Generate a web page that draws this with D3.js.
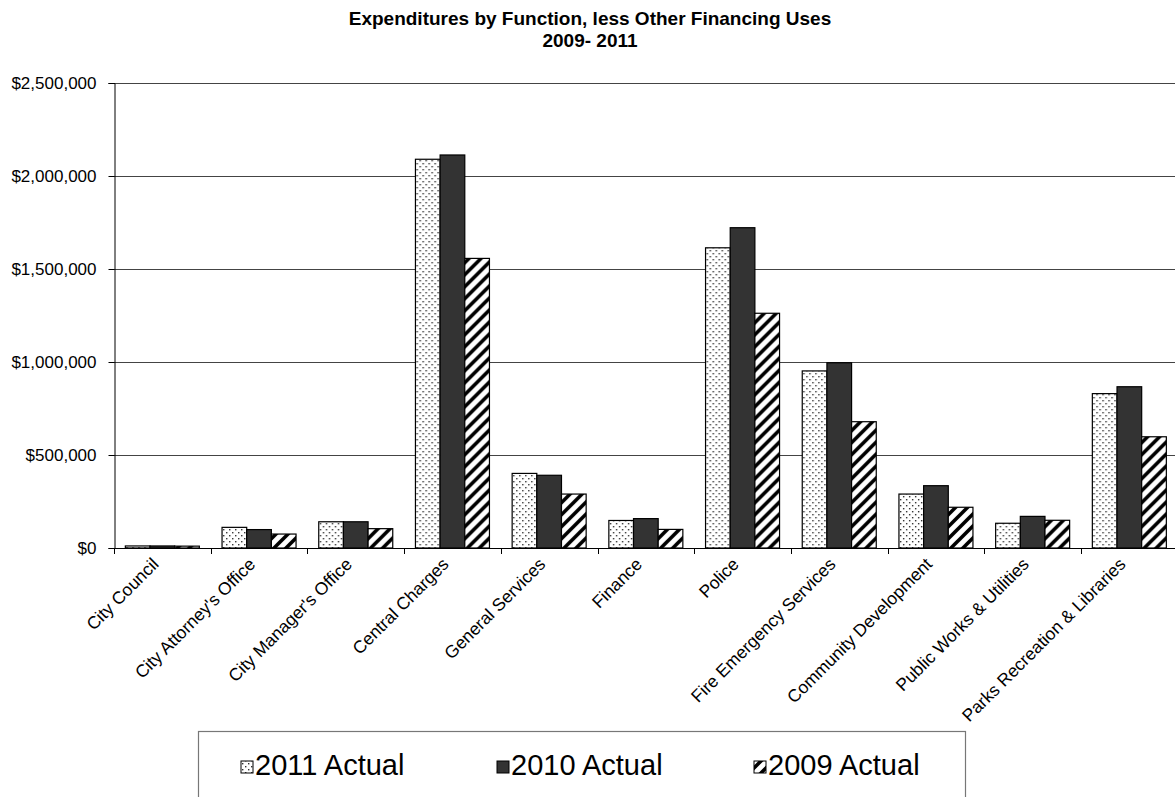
<!DOCTYPE html>
<html>
<head>
<meta charset="utf-8">
<script src="https://cdn.jsdelivr.net/npm/d3@7"></script>
<style>
  html, body { margin: 0; padding: 0; background: #fff; }
  svg { display: block; font-family: "Liberation Sans", Arial, sans-serif; }
</style>
</head>
<body>
<svg id="chart" width="1175" height="797"></svg>
<script>
// Expenditures by function, three fiscal years
const categories = [
  "City Council", "City Attorney's Office", "City Manager's Office", "Central Charges",
  "General Services", "Finance", "Police", "Fire Emergency Services",
  "Community Development", "Public Works & Utilities", "Parks Recreation & Libraries"
];
const seriesNames = ["2011 Actual", "2010 Actual", "2009 Actual"];
const actual2011 = [11000, 111000, 141000, 2090000, 401000, 148000, 1614000, 952000, 290000, 133000, 830000];
const actual2010 = [11000,  99000, 141000, 2113000, 391000, 158000, 1722000, 996000, 335000, 170000, 867000];
const actual2009 = [10000,  75000, 104000, 1557000, 290000, 100000, 1262000, 679000, 219000, 149000, 598000];
const yTicks = [0, 500000, 1000000, 1500000, 2000000, 2500000];

const seriesValues = [actual2011, actual2010, actual2009];
const svg = d3.select("#chart");

// Fill patterns: dotted, solid dark, wide upward diagonal
const defs = svg.append("defs");
const dots = defs.append("pattern").attr("id", "pat-dots")
  .attr("patternUnits", "userSpaceOnUse").attr("width", 6).attr("height", 6);
dots.append("rect").attr("width", 6).attr("height", 6).attr("fill", "#fff");
dots.append("rect").attr("x", 1).attr("y", 1).attr("width", 1.4).attr("height", 1.4).attr("fill", "#333");
dots.append("rect").attr("x", 4).attr("y", 4).attr("width", 1.4).attr("height", 1.4).attr("fill", "#333");

const hatch = defs.append("pattern").attr("id", "pat-hatch")
  .attr("patternUnits", "userSpaceOnUse").attr("width", 12).attr("height", 12);
hatch.append("rect").attr("width", 12).attr("height", 12).attr("fill", "#fff");
hatch.append("path")
  .attr("d", "M-3,15 L15,-3 M-3,3 L3,-3 M9,15 L15,9")
  .attr("stroke", "#000").attr("stroke-width", 3.6);

const fills = ["url(#pat-dots)", "#333333", "url(#pat-hatch)"];

// Plot area
const plotLeft = 114, plotTop = 83, plotBottom = 548;
const catWidth = 96.7;
const plotRight = plotLeft + catWidth * categories.length;

const x0 = d3.scaleBand().domain(categories).range([plotLeft, plotRight]).paddingInner(0).paddingOuter(0);
const barW = x0.bandwidth() / 3.92;
const x1 = d3.scaleBand().domain(seriesNames).range([0, barW * 3]);
const groupOffset = (x0.bandwidth() - barW * 3) / 2;
const y = d3.scaleLinear().domain([0, 2500000]).range([plotBottom, plotTop]);

// Horizontal gridlines
svg.append("g").selectAll("line").data(yTicks.filter(d => d > 0)).join("line")
  .attr("x1", plotLeft).attr("x2", plotRight)
  .attr("y1", d => Math.round(y(d)) + 0.5).attr("y2", d => Math.round(y(d)) + 0.5)
  .attr("stroke", "#444").attr("stroke-width", 1);

// Y axis
const yAxis = d3.axisLeft(y).tickValues(yTicks).tickSize(6).tickPadding(12)
  .tickFormat(d => "$" + d3.format(",")(d));
const gy = svg.append("g").attr("transform", `translate(${plotLeft + 0.5},0)`).call(yAxis);
gy.select(".domain").attr("stroke", "#000");
gy.selectAll(".tick line").attr("stroke", "#000");
gy.selectAll(".tick text").attr("font-size", 17).attr("fill", "#000")
  .attr("font-family", "Liberation Sans, Arial, sans-serif");

// Bars
const groups = svg.append("g").selectAll("g").data(categories).join("g")
  .attr("transform", d => `translate(${x0(d) + groupOffset},0)`);
groups.selectAll("rect")
  .data((d, i) => seriesNames.map((s, j) => ({ s, j, v: seriesValues[j][i] })))
  .join("rect")
  .attr("x", d => x1(d.s))
  .attr("width", x1.bandwidth())
  .attr("y", d => y(d.v))
  .attr("height", d => y(0) - y(d.v))
  .attr("fill", d => fills[d.j])
  .attr("stroke", "#000").attr("stroke-width", 1.2);

// X axis with category boundary ticks
const xAxisLine = svg.append("g");
xAxisLine.append("line").attr("x1", plotLeft).attr("x2", plotRight)
  .attr("y1", plotBottom + 0.5).attr("y2", plotBottom + 0.5).attr("stroke", "#000");
const boundaries = categories.map(c => x0(c)).concat([plotRight]);
xAxisLine.selectAll("line.tk").data(boundaries).join("line").attr("class", "tk")
  .attr("x1", d => Math.round(d) + 0.5).attr("x2", d => Math.round(d) + 0.5)
  .attr("y1", plotBottom).attr("y2", plotBottom + 6).attr("stroke", "#000");

// Rotated category labels
svg.append("g").selectAll("text").data(categories).join("text")
  .attr("transform", d => `translate(${x0(d) + x0.bandwidth() / 2 - 7},${plotBottom + 13}) rotate(-45)`)
  .attr("text-anchor", "end")
  .attr("dy", "0.35em")
  .attr("font-size", 17.5)
  .attr("fill", "#000")
  .text(d => d);

// Title
const title = svg.append("text").attr("x", 590).attr("text-anchor", "middle")
  .attr("font-weight", "bold").attr("font-size", 19).attr("fill", "#000");
title.append("tspan").attr("x", 590).attr("y", 25).text("Expenditures by Function, less Other Financing Uses");
title.append("tspan").attr("x", 590).attr("y", 47).text("2009- 2011");

// Legend
const legend = svg.append("g");
legend.append("rect").attr("x", 198.5).attr("y", 731.5).attr("width", 767).attr("height", 120)
  .attr("fill", "#fff").attr("stroke", "#777").attr("stroke-width", 1.2);
const legendX = [241, 497, 754];
const items = legend.selectAll("g").data(seriesNames).join("g")
  .attr("transform", (d, i) => `translate(${legendX[i]},0)`);
items.append("rect").attr("x", 0).attr("y", 761).attr("width", 12).attr("height", 12)
  .attr("fill", (d, i) => fills[i]).attr("stroke", "#000").attr("stroke-width", 1);
items.append("text").attr("x", 14).attr("y", 775).attr("font-size", 29).attr("fill", "#000")
  .text(d => d);
</script>
</body>
</html>
